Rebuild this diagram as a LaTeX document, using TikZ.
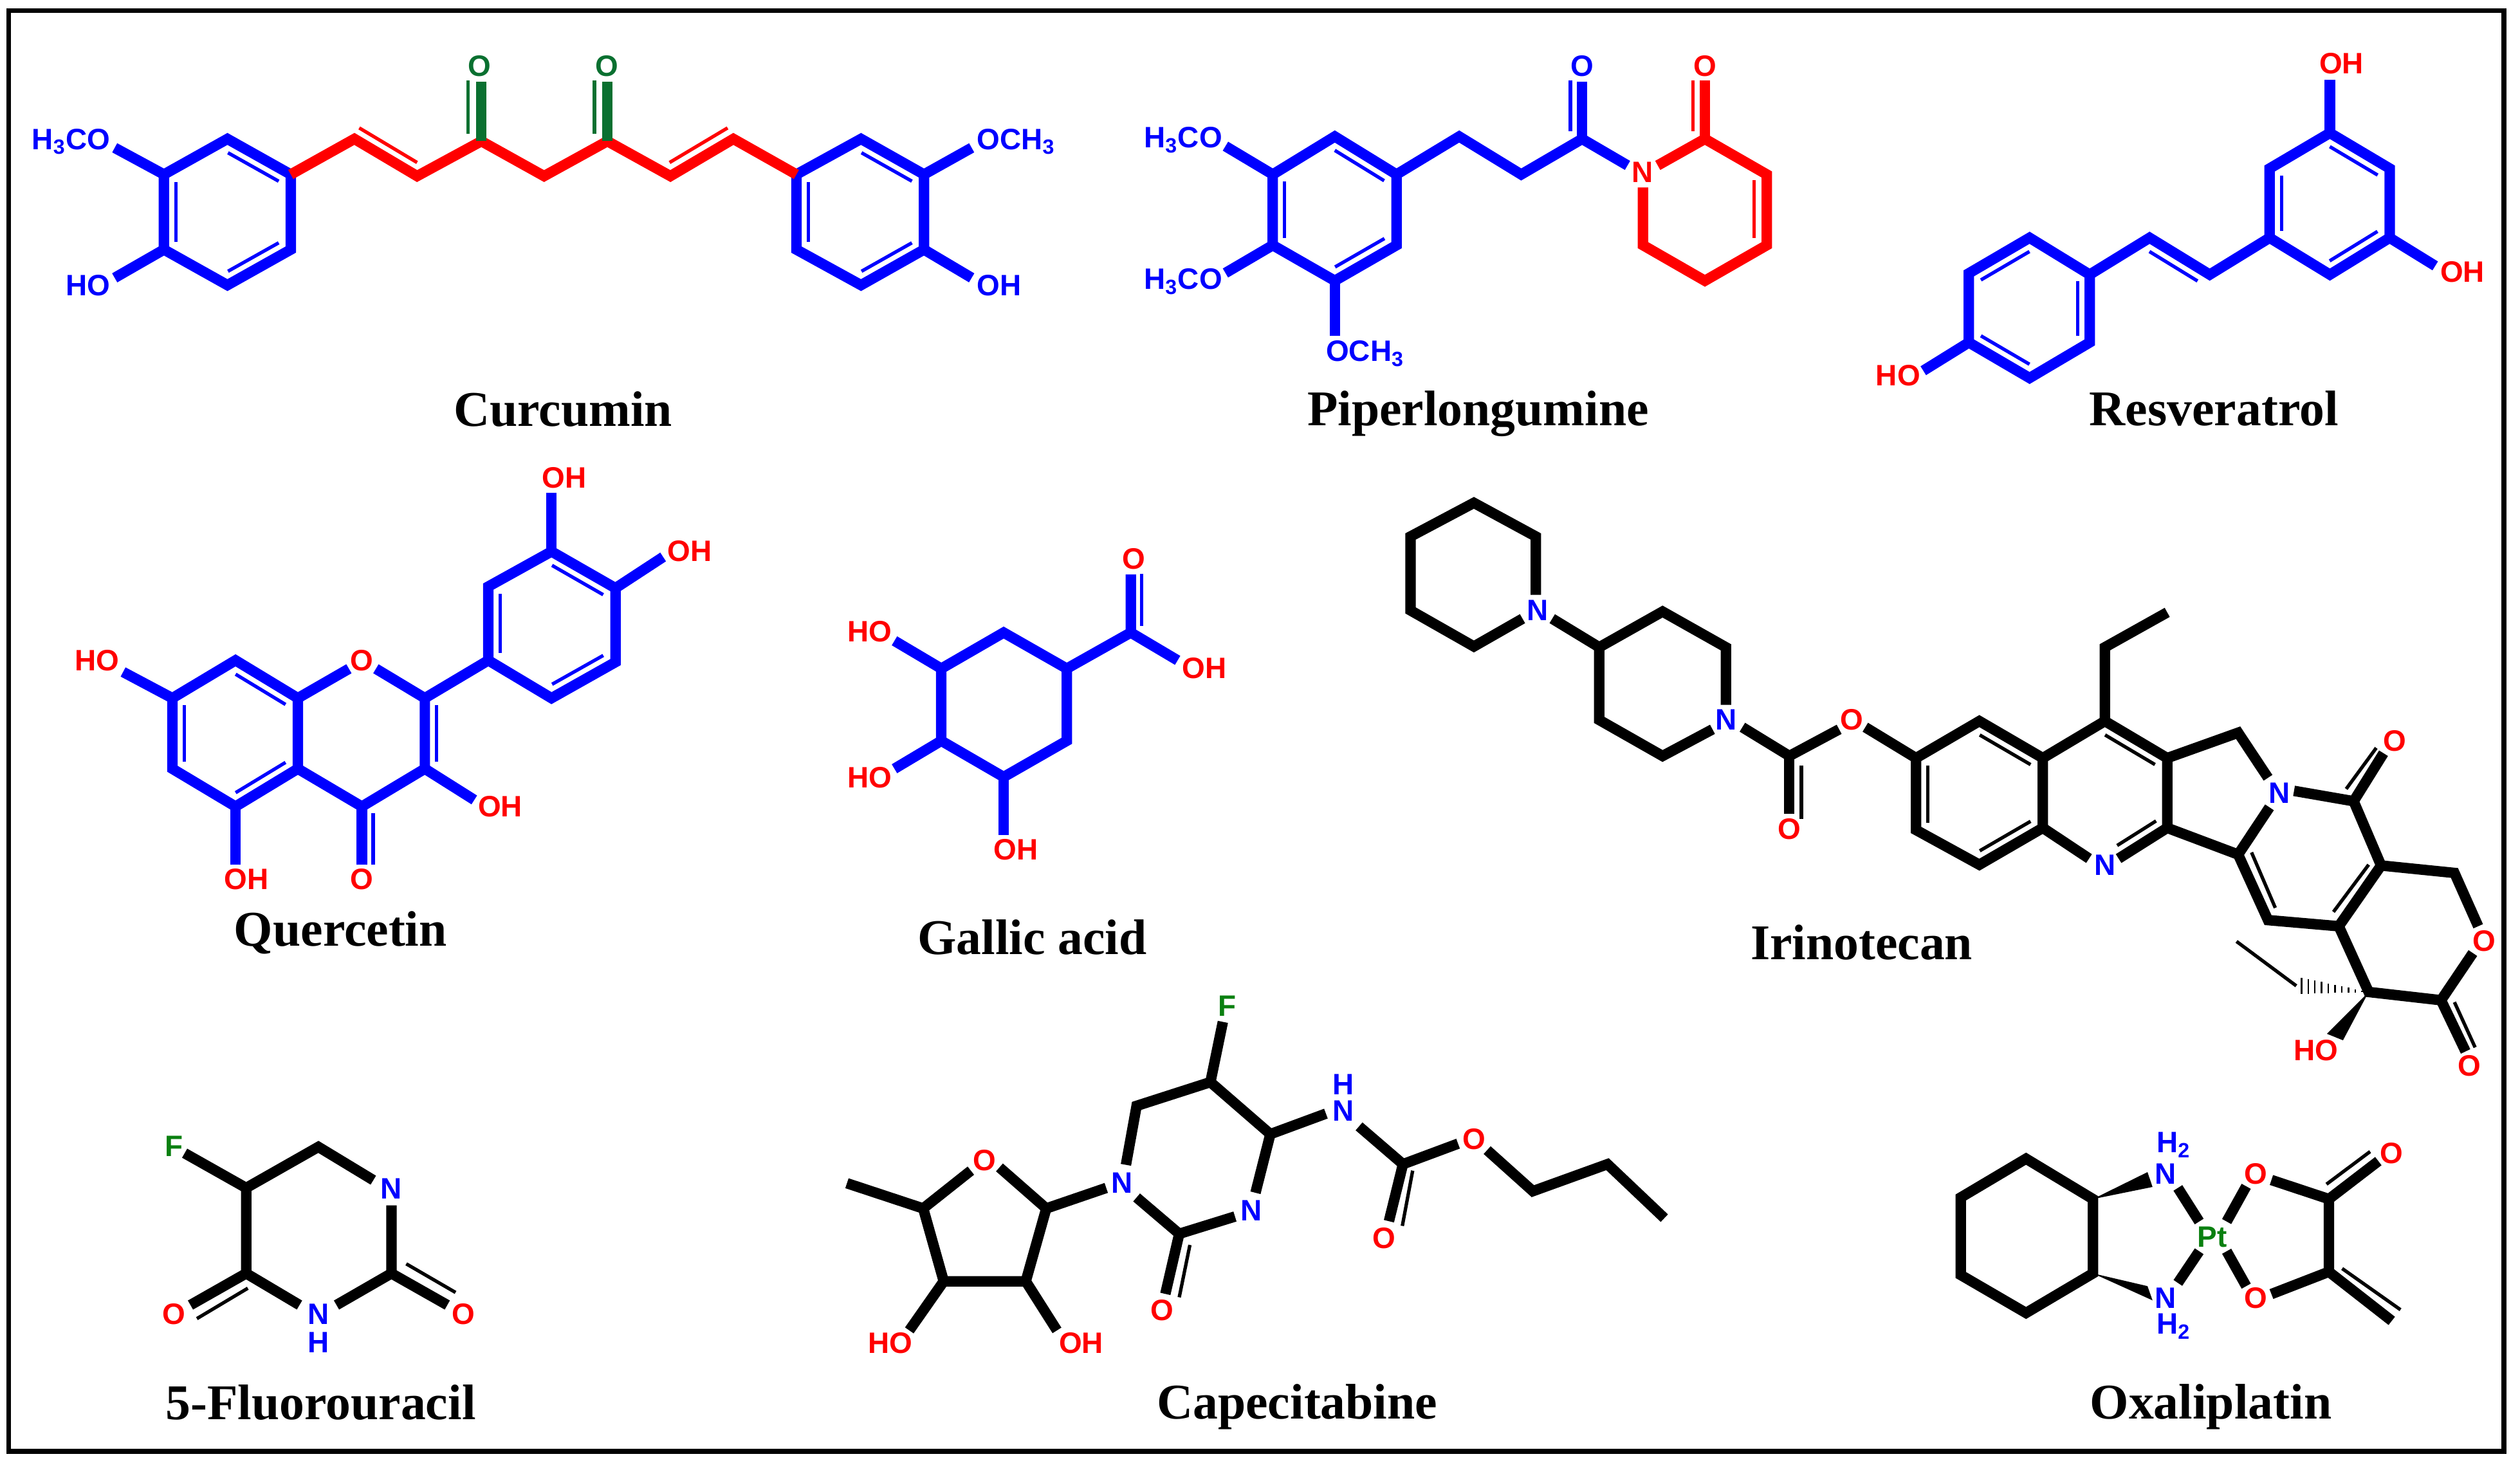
\documentclass[tikz,border=0pt]{standalone}
\usepackage{fontspec}
\setmainfont{Liberation Sans}
\newfontfamily\namefont{Liberation Serif}
\usetikzlibrary{calc}
\definecolor{ketogreen}{HTML}{0A7030}
\definecolor{fluorgreen}{HTML}{0A8010}
\tikzset{
  bond/.style={line width=4.6pt,line join=miter,miter limit=6},
  thinbond/.style={line width=1.5pt},
  atomlabel/.style={font=\fontsize{13}{14}\selectfont\bfseries,inner sep=0pt,anchor=base},
  molname/.style={font=\namefont\fontsize{22}{24}\selectfont\bfseries,inner sep=0pt,anchor=base},
  frameline/.style={line width=2.15pt},
}
\newcommand\atoms[2]{\foreach \n/\px/\py in {#2} \coordinate (#1\n) at (\px,\py);}
\newcommand\inbond[3][]{\draw[thinbond,#1] ($(#2)!.1!(#3)!5.2pt!-90:(#3)$) -- ($(#3)!.1!(#2)!5.2pt!90:(#2)$);}
\newcommand\ring[6]{(#1) -- (#2) -- (#3) -- (#4) -- (#5) -- (#6) -- cycle}
\begin{document}
\begin{tikzpicture}[x=0.25mm,y=-0.25mm]
  \useasboundingbox (0,0) rectangle (1560,904.4);
  \draw[frameline] (5.4,6.6) rectangle (1550,898.4);

  % curcumin
  \atoms{cu}{1/101.5/108,2/140.8/86,3/180/108,4/180/154.5,5/140.8/176.5,6/101.5/154.5,
    7/219.4/86,8/258.2/109,9/298/87.4,10/336.8/109,11/376/87.4,12/415/109,13/454/86,
    14/493/108,15/533/86,16/572/108,17/572/154.5,18/533/176.5,19/493/154.5,
    20/298/50.7,21/376/50.7,22/71/91.5,23/71/172,24/601.5/91.5,25/601.5/172,
    26/289.7/49.7,27/289.7/82.7,28/368/49.7,29/368/82.7,
    30/222.4/79.2,31/258.2/100.6,32/414.5/100.6,33/450.4/79.2}
  \draw[bond,blue] \ring{cu1}{cu2}{cu3}{cu4}{cu5}{cu6};
  \draw[bond,blue] \ring{cu14}{cu15}{cu16}{cu17}{cu18}{cu19};
  \draw[bond,blue] (cu22) -- (cu1);
  \draw[bond,blue] (cu23) -- (cu6);
  \draw[bond,blue] (cu24) -- (cu16);
  \draw[bond,blue] (cu25) -- (cu17);
  \draw[bond,red] (cu3) -- (cu7) -- (cu8) -- (cu9) -- (cu10) -- (cu11) -- (cu12) -- (cu13) -- (cu14);
  \draw[bond,ketogreen] (cu9) -- (cu20);
  \draw[bond,ketogreen] (cu11) -- (cu21);
  \draw[thinbond,ketogreen] (cu26) -- (cu27);
  \draw[thinbond,ketogreen] (cu28) -- (cu29);
  \draw[thinbond,red] (cu30) -- (cu31);
  \draw[thinbond,red] (cu32) -- (cu33);
  \inbond[blue]{cu6}{cu1}
  \inbond[blue]{cu2}{cu3}
  \inbond[blue]{cu4}{cu5}
  \inbond[blue]{cu19}{cu14}
  \inbond[blue]{cu15}{cu16}
  \inbond[blue]{cu17}{cu18}
  \node[atomlabel,blue,anchor=base east] (cuA) at (68.5,92.4) {H\textsubscript{3}CO};
  \node[atomlabel,blue,anchor=base east] (cuB) at (68.5,183) {HO};
  \node[atomlabel,blue,anchor=base west] (cuC) at (604.5,92.4) {OCH\textsubscript{3}};
  \node[atomlabel,blue,anchor=base west] (cuD) at (604.5,183) {OH};
  \node[atomlabel,ketogreen] (cuE) at (297,47.2) {O};
  \node[atomlabel,ketogreen] (cuF) at (375.7,47.2) {O};
  \node[molname] (cuName) at (348.5,263.7) {Curcumin};

  % piperlongumine
  \atoms{pi}{1/787.9/108,2/826.3/84.5,3/864.5/108,4/864.5/151.8,5/826.3/173.8,6/787.9/151.8,
    7/903.3/84.5,8/941.7/108,9/979.4/86,10/1007.5/102.4,11/979.4/50.7,
    12/1026.2/102.4,13/1055.4/86,14/1093.7/108,15/1093.7/151.8,16/1055.4/173.8,17/1017.1/151.8,18/1017.1/116,
    19/1055.4/49.7,20/758.6/90.5,21/758.6/169,22/826.3/208,
    23/972.2/49.7,24/972.2/81.4,25/1048/49.7,26/1048/81.4,27/1085.8/111.6,28/1085.8/147.2}
  \draw[bond,blue] \ring{pi1}{pi2}{pi3}{pi4}{pi5}{pi6};
  \draw[bond,blue] (pi20) -- (pi1);
  \draw[bond,blue] (pi21) -- (pi6);
  \draw[bond,blue] (pi5) -- (pi22);
  \draw[bond,blue] (pi3) -- (pi7) -- (pi8) -- (pi9) -- (pi10);
  \draw[bond,blue] (pi9) -- (pi11);
  \draw[bond,red] (pi12) -- (pi13) -- (pi14) -- (pi15) -- (pi16) -- (pi17) -- (pi18);
  \draw[bond,red] (pi13) -- (pi19);
  \draw[thinbond,blue] (pi23) -- (pi24);
  \draw[thinbond,red] (pi25) -- (pi26);
  \draw[thinbond,red] (pi27) -- (pi28);
  \inbond[blue]{pi6}{pi1}
  \inbond[blue]{pi2}{pi3}
  \inbond[blue]{pi4}{pi5}
  \node[atomlabel,blue,anchor=base east] (piA) at (756.9,91.4) {H\textsubscript{3}CO};
  \node[atomlabel,blue,anchor=base east] (piB) at (756.9,179.2) {H\textsubscript{3}CO};
  \node[atomlabel,blue,anchor=base west] (piC) at (820.6,223.5) {OCH\textsubscript{3}};
  \node[atomlabel,blue] (piD) at (979.4,47.2) {O};
  \node[atomlabel,red] (piE) at (1055.4,47.2) {O};
  \node[atomlabel,red] (piN) at (1016.7,113) {N};
  \node[molname] (piName) at (915,263.4) {Piperlongumine};

  % resveratrol
  \atoms{re}{1/1442.3/82.3,2/1479.3/104.3,3/1479.3/147.2,4/1442.3/170,5/1405/147.2,6/1405/104.3,
    7/1367.9/170,8/1330.7/147.2,9/1293.6/170,10/1256.4/147.2,11/1218.8/169.2,12/1218.8/212,13/1256.4/234,14/1293.6/212,
    15/1442.3/49.4,16/1507.5/164.6,17/1190.6/229.5}
  \draw[bond,blue] \ring{re1}{re2}{re3}{re4}{re5}{re6};
  \draw[bond,blue] \ring{re9}{re14}{re13}{re12}{re11}{re10};
  \draw[bond,blue] (re5) -- (re7) -- (re8) -- (re9);
  \draw[bond,blue] (re1) -- (re15);
  \draw[bond,blue] (re3) -- (re16);
  \draw[bond,blue] (re12) -- (re17);
  \inbond[blue]{re5}{re6}
  \inbond[blue]{re1}{re2}
  \inbond[blue]{re3}{re4}
  \inbond[blue]{re8}{re7}
  \inbond[blue]{re11}{re10}
  \inbond[blue]{re9}{re14}
  \inbond[blue]{re13}{re12}
  \node[atomlabel,red,anchor=base west] (reA) at (1435.5,45.7) {OH};
  \node[atomlabel,red,anchor=base west] (reB) at (1510.4,174.7) {OH};
  \node[atomlabel,red,anchor=base east] (reC) at (1189,238.7) {HO};
  \node[molname] (reName) at (1370.5,263.4) {Resveratrol};

  % quercetin
  \atoms{qu}{1/145.8/408.8,2/184.4/432.2,3/184.4/475.9,4/145.8/499.3,5/106.7/475.9,6/106.7/432.2,
    7/216/414,8/232.7/414,9/263/432.2,10/263/475.9,11/224/499.3,
    12/302.3/408.8,13/302.3/363.1,14/341.4/341.4,15/381/364.1,16/381/409.9,17/341.4/432.2,
    18/341.4/305.2,19/410.5/344.8,20/293.6/495.2,21/145.8/535.2,22/224/535.2,23/76.2/416,
    24/231/503.3,25/231/535.2}
  \draw[bond,blue] \ring{qu1}{qu2}{qu3}{qu4}{qu5}{qu6};
  \draw[bond,blue] \ring{qu12}{qu13}{qu14}{qu15}{qu16}{qu17};
  \draw[bond,blue] (qu7) -- (qu2);
  \draw[bond,blue] (qu8) -- (qu9) -- (qu10) -- (qu11) -- (qu3);
  \draw[bond,blue] (qu9) -- (qu12);
  \draw[bond,blue] (qu14) -- (qu18);
  \draw[bond,blue] (qu15) -- (qu19);
  \draw[bond,blue] (qu10) -- (qu20);
  \draw[bond,blue] (qu4) -- (qu21);
  \draw[bond,blue] (qu11) -- (qu22);
  \draw[bond,blue] (qu6) -- (qu23);
  \draw[thinbond,blue] (qu24) -- (qu25);
  \inbond[blue]{qu5}{qu6}
  \inbond[blue]{qu1}{qu2}
  \inbond[blue]{qu3}{qu4}
  \inbond[blue]{qu10}{qu9}
  \inbond[blue]{qu12}{qu13}
  \inbond[blue]{qu14}{qu15}
  \inbond[blue]{qu16}{qu17}
  \node[atomlabel,red,anchor=base west] (quA) at (335.3,302.2) {OH};
  \node[atomlabel,red,anchor=base west] (quB) at (413,347.3) {OH};
  \node[atomlabel,red,anchor=base west] (quC) at (295.7,505.4) {OH};
  \node[atomlabel,red,anchor=base west] (quD) at (138.7,550.7) {OH};
  \node[atomlabel,red] (quE) at (224,550.7) {O};
  \node[atomlabel,red,anchor=base east] (quF) at (74,415) {HO};
  \node[atomlabel,red] (quO) at (224,415) {O};
  \node[molname] (quName) at (210.8,585.6) {Quercetin};

  % gallic acid
  \atoms{ga}{1/621.3/391.6,2/660.4/413.9,3/660.4/458.6,4/621.3/481,5/582.7/458.6,6/582.7/413.9,
    7/700/391.6,8/700/355.6,9/729/408.8,10/553.7/396.7,11/553.7/475.9,12/621.3/517,
    13/706.6/355.2,14/706.6/387.5}
  \draw[bond,blue] \ring{ga1}{ga2}{ga3}{ga4}{ga5}{ga6};
  \draw[bond,blue] (ga2) -- (ga7) -- (ga8);
  \draw[bond,blue] (ga7) -- (ga9);
  \draw[bond,blue] (ga6) -- (ga10);
  \draw[bond,blue] (ga5) -- (ga11);
  \draw[bond,blue] (ga4) -- (ga12);
  \draw[thinbond,blue] (ga13) -- (ga14);
  \node[atomlabel,red] (gaO) at (702,352.4) {O};
  \node[atomlabel,red,anchor=base west] (gaA) at (731.5,420) {OH};
  \node[atomlabel,red,anchor=base west] (gaB) at (524.3,397.3) {HO};
  \node[atomlabel,red,anchor=base west] (gaC) at (524.3,487.5) {HO};
  \node[atomlabel,red,anchor=base west] (gaD) at (615,532.4) {OH};
  \node[molname] (gaName) at (639,590.7) {Gallic acid};

  % irinotecan
  \atoms{ir}{1/912.4/311.3,2/950.7/332.1,3/950.7/368.2,4/942.5/383,5/912.4/400.2,6/873.2/377.9,7/873.2/332.1,
    8/960.9/383,9/990/400.7,10/1029.2/378.6,11/1068.4/400.7,12/1068.4/436.3,13/1060.1/451.5,14/1029.2/468,15/990/445.7,
    16/1078.6/450.2,17/1107.7/468,18/1138.5/451.5,19/1107.7/503.6,20/1154.7/450.2,
    21/1186.1/469.3,22/1225.3/446.4,23/1264.6/469.3,24/1264.6/512.5,25/1225.3/535.3,26/1186.1/513.8,
    27/1303/446.4,28/1341.6/469.3,29/1341.6/512.5,30/1293.2/531.5,31/1311.5/531.5,
    32/1303/400.7,33/1341.6/379.1,34/1385.5/453.6,35/1404/481.5,36/1404.9/499.8,37/1385.5/529,
    38/1420.1/489.6,39/1457/496,40/1475.5/466.3,41/1474/535.8,42/1447.8/573.4,43/1404/569.6,
    44/1519.4/540.4,45/1534.1/573.4,46/1530.8/590,47/1511.1/619.2,48/1466.3/614.1,49/1526.3/650.9,
    50/1424.7/610.3,51/1421.5/610.3,52/1384.5/582.8,
    53/1115.1/507,54/1115.1/474,55/1452.4/488.4,56/1471/463,57/1393.8/527.7,58/1408.5/562,
    59/1444.5/564.5,60/1466.3/535.3,61/1519.4/620.4,62/1532.2/648.4}
  \draw[bond] (ir3) -- (ir2) -- (ir1) -- (ir7) -- (ir6) -- (ir5) -- (ir4);
  \draw[bond] (ir8) -- (ir9) -- (ir10) -- (ir11) -- (ir12);
  \draw[bond] (ir13) -- (ir14) -- (ir15) -- (ir9);
  \draw[bond] (ir16) -- (ir17) -- (ir18);
  \draw[bond] (ir17) -- (ir19);
  \draw[bond] (ir20) -- (ir21);
  \draw[bond] \ring{ir21}{ir22}{ir23}{ir24}{ir25}{ir26};
  \draw[bond] (ir23) -- (ir27) -- (ir28) -- (ir29) -- (ir31);
  \draw[bond] (ir24) -- (ir30);
  \draw[bond] (ir27) -- (ir32) -- (ir33);
  \draw[bond] (ir28) -- (ir34) -- (ir35);
  \draw[bond] (ir36) -- (ir37) -- (ir29);
  \draw[bond] (ir38) -- (ir39) -- (ir40);
  \draw[bond] (ir39) -- (ir41) -- (ir42) -- (ir43) -- (ir37);
  \draw[bond] (ir41) -- (ir44) -- (ir45);
  \draw[bond] (ir46) -- (ir47) -- (ir48) -- (ir42);
  \draw[bond] (ir47) -- (ir49);
  \draw[thinbond] (ir51) -- (ir52);
  \foreach \k in {1,...,10}
  \draw[line width=.7pt] ($(ir48)!\k/10!(ir50)+(0,{\k*.5})$) -- ($(ir48)!\k/10!(ir50)-(0,{\k*.5})$);
  \fill (ir48) -- (1450.4,644) -- (1440.5,640) -- cycle;
  \draw[thinbond] (ir53) -- (ir54);
  \draw[thinbond] (ir55) -- (ir56);
  \draw[thinbond] (ir57) -- (ir58);
  \draw[thinbond] (ir59) -- (ir60);
  \draw[thinbond] (ir61) -- (ir62);
  \inbond{ir26}{ir21}
  \inbond{ir22}{ir23}
  \inbond{ir24}{ir25}
  \inbond{ir27}{ir28}
  \inbond{ir29}{ir31}
  \node[atomlabel,blue] (irN) at (951.7,384.2) {N};
  \node[atomlabel,blue] (irP) at (1068.4,452) {N};
  \node[atomlabel,red] (irA) at (1146.4,452) {O};
  \node[atomlabel,red] (irB) at (1107.7,519.6) {O};
  \node[atomlabel,blue] (irQ) at (1303,541.7) {N};
  \node[atomlabel,blue] (irR) at (1410.9,497.2) {N};
  \node[atomlabel,red] (irC) at (1482.4,465) {O};
  \node[atomlabel,red] (irD) at (1537.8,588.7) {O};
  \node[atomlabel,red] (irE) at (1528.6,666.2) {O};
  \node[atomlabel,red,anchor=base east] (irF) at (1447.5,656.5) {HO};
  \node[molname] (irName) at (1152.4,594) {Irinotecan};

  % 5-fluorouracil
  \atoms{fu}{1/152.4/735.4,2/197.1/710,3/231.1/730.6,4/242.3/746.2,5/242.3/788.3,6/208.3/807.9,7/185.4/807.9,8/152.4/788.3,
    9/117.9/807.9,10/276.9/807.9,11/114.3/713.9,
    12/153.4/797.5,13/121.9/816.3,14/251.5/782.4,15/282/800.1}
  \draw[bond] (fu3) -- (fu2) -- (fu1) -- (fu8) -- (fu7);
  \draw[bond] (fu4) -- (fu5) -- (fu6);
  \draw[bond] (fu1) -- (fu11);
  \draw[bond] (fu8) -- (fu9);
  \draw[bond] (fu5) -- (fu10);
  \draw[thinbond] (fu12) -- (fu13);
  \draw[thinbond] (fu14) -- (fu15);
  \node[atomlabel,blue] (fuN) at (242.3,742.3) {N};
  \node[atomlabel,blue] (fuM) at (197,820) {N};
  \node[atomlabel,blue] (fuH) at (197,837.3) {H};
  \node[atomlabel,red] (fuA) at (107.7,820) {O};
  \node[atomlabel,red] (fuB) at (287,820) {O};
  \node[atomlabel,fluorgreen] (fuF) at (107.7,715.8) {F};
  \node[molname] (fuName) at (198.6,878.8) {5-Fluorouracil};

  % capecitabine
  \atoms{ca}{1/524.3/732.5,2/571.5/748.1,3/601/724.7,4/618.7/722.7,5/647.7/748.1,6/635/793.2,7/584.2/793.2,
    8/562.9/823.6,9/654.3/823.6,10/684.8/735.4,11/697/721.1,12/703.6/684.6,13/749.3/669.9,14/757/632.6,
    15/786.4/702.1,16/777.2/738.4,17/764.5/753.1,18/730/763.8,19/703.6/741.3,20/721.4/801,
    21/820.8/689.4,22/841.3/697.3,23/868.5/720.7,24/902.6/708,25/920.6/712,26/948.9/737.4,27/995.1/720.7,28/1030.3/754.1,
    29/859.8/756,30/736.6/770.7,31/730/803.1,32/874.5/724.7,33/868.1/758.9}
  \draw[bond] (ca1) -- (ca2) -- (ca3);
  \draw[bond] (ca4) -- (ca5) -- (ca6) -- (ca7) -- (ca2);
  \draw[bond] (ca7) -- (ca8);
  \draw[bond] (ca6) -- (ca9);
  \draw[bond] (ca5) -- (ca10);
  \draw[bond] (ca11) -- (ca12) -- (ca13) -- (ca15) -- (ca16);
  \draw[bond] (ca13) -- (ca14);
  \draw[bond] (ca17) -- (ca18) -- (ca19);
  \draw[bond] (ca18) -- (ca20);
  \draw[bond] (ca15) -- (ca21);
  \draw[bond] (ca22) -- (ca23) -- (ca24);
  \draw[bond] (ca25) -- (ca26) -- (ca27) -- (ca28);
  \draw[bond] (ca23) -- (ca29);
  \draw[thinbond] (ca30) -- (ca31);
  \draw[thinbond] (ca32) -- (ca33);
  \node[atomlabel,red] (caO) at (609.6,724.7) {O};
  \node[atomlabel,red,anchor=base west] (caA) at (537,837.7) {HO};
  \node[atomlabel,red,anchor=base west] (caB) at (655.3,837.7) {OH};
  \node[atomlabel,blue] (caN) at (694.4,738.4) {N};
  \node[atomlabel,blue] (caM) at (774.7,755.6) {N};
  \node[atomlabel,fluorgreen] (caF) at (759.5,629.1) {F};
  \node[atomlabel,red] (caC) at (719.3,817.6) {O};
  \node[atomlabel,blue] (caP) at (831.6,693.9) {N};
  \node[atomlabel,blue] (caH) at (831.6,677.6) {H};
  \node[atomlabel,red] (caD) at (912.4,711.4) {O};
  \node[atomlabel,red] (caE) at (856.9,773) {O};
  \node[molname] (caName) at (803,878.4) {Capecitabine};

  % oxaliplatin
  \atoms{ox}{1/1254.2/717.3,2/1295.6/742.3,3/1295.6/788.3,4/1254.2/812.8,5/1213.8/789.3,6/1213.8/741.3,
    7/1329.4/725.6,8/1332.5/734.8,9/1329.4/796.2,10/1332.5/805,
    11/1348.2/735.4,12/1361.4/756.2,13/1348.2/794.2,14/1361.4/774.6,15/1378.4/756.2,16/1390.5/734.4,17/1378.4/774.6,18/1390.5/796.2,
    19/1406.1/730.5,20/1441.7/742.3,21/1441.7/787.3,22/1406.1/801.1,23/1472.3/718.8,24/1480.6/817.7,
    25/1440.2/733.1,26/1467.2/712.9,27/1449.9/785.3,28/1486/810.8}
  \draw[bond] \ring{ox1}{ox2}{ox3}{ox4}{ox5}{ox6};
  \fill (ox2) -- (ox7) -- (ox8) -- cycle;
  \fill (ox3) -- (ox9) -- (ox10) -- cycle;
  \draw[bond] (ox11) -- (ox12);
  \draw[bond] (ox13) -- (ox14);
  \draw[bond] (ox15) -- (ox16);
  \draw[bond] (ox17) -- (ox18);
  \draw[bond] (ox19) -- (ox20) -- (ox21) -- (ox22);
  \draw[bond] (ox20) -- (ox23);
  \draw[bond] (ox21) -- (ox24);
  \draw[thinbond] (ox25) -- (ox26);
  \draw[thinbond] (ox27) -- (ox28);
  \node[atomlabel,fluorgreen,anchor=base west] (oxPt) at (1360,771.9) {Pt};
  \node[atomlabel,blue] (oxN) at (1340.4,733) {N};
  \node[atomlabel,blue,anchor=base west] (oxH) at (1334.8,713.5) {H\textsubscript{2}};
  \node[atomlabel,blue] (oxM) at (1340.4,809.7) {N};
  \node[atomlabel,blue,anchor=base west] (oxI) at (1334.8,825.7) {H\textsubscript{2}};
  \node[atomlabel,red] (oxA) at (1396.5,733) {O};
  \node[atomlabel,red] (oxB) at (1396.5,809.7) {O};
  \node[atomlabel,red] (oxC) at (1480.6,720.3) {O};
  \node[molname] (oxName) at (1368.6,878.4) {Oxaliplatin};
\end{tikzpicture}
\end{document}
